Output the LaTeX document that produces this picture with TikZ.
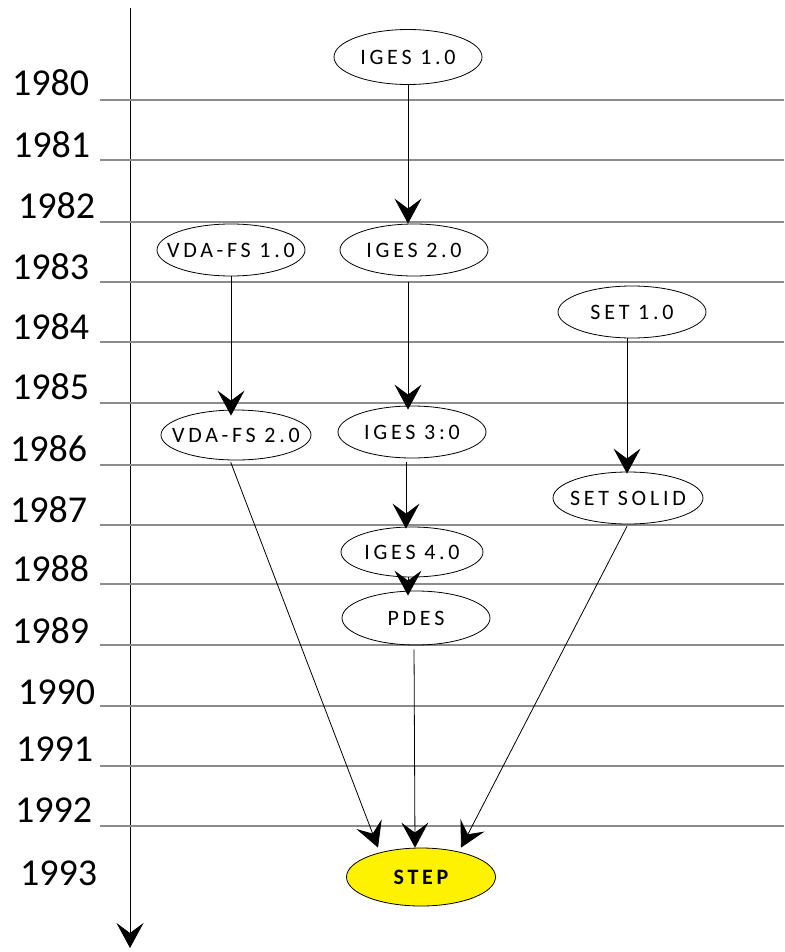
\documentclass[tikz,border=0pt]{standalone}
\usepackage{fontspec}
\setmainfont{Carlito}
\newfontfamily\boxfont[LetterSpace=17]{Carlito}
\usetikzlibrary{shapes.geometric,arrows.meta}
\newcommand{\vtext}[1]{\makebox[0pt]{#1}}

\begin{document}
\begin{tikzpicture}[x=1pt,y=-1pt,
    version/.style={ellipse, draw, line width=0.8pt, inner sep=0pt, minimum width=148pt, minimum height=52pt,
        font=\boxfont\fontsize{22}{22}\selectfont},
    yearlabel/.style={anchor=west, inner sep=0pt, font=\fontsize{38}{38}\selectfont},
    flow/.style={-{Stealth[length=25pt,width=27pt,inset=10pt]}, line width=0.8pt},
    yearline/.style={draw=black!45, line width=1.1pt}]
        \useasboundingbox (0, 0) rectangle (784, 952);

        % time axis
        \coordinate (axtop) at (130, 8);
        \coordinate (axbot) at (130, 948);
        \draw[flow] (axtop) -- (axbot);

        % year rules
        \foreach \yy in {100, 160, 222, 282, 342, 403, 465, 525, 584, 645, 706, 766, 826}
            \draw[yearline] (100, \yy) -- (784, \yy);

        % years
        \foreach \yr/\xx/\yy in {1980/12/83, 1981/13/145, 1982/18/206, 1983/12/267,
                1984/12/327, 1985/12/387, 1986/10/449, 1987/10/510, 1988/12/569,
                1989/12/631, 1990/18/692, 1991/16/749, 1992/15/810, 1993/20/873}
            \node[yearlabel] (y\yr) at (\xx, \yy) {\yr};

        \node[version, minimum height=55pt] (iges1) at (408, 57) {\vtext{IGES 1.0}};
        \node[version] (vda1) at (231, 250) {\vtext{VDA-FS 1.0}};
        \node[version] (iges2) at (414, 250) {\vtext{IGES 2.0}};
        \node[version] (set1) at (632, 312) {\vtext{SET 1.0}};
        \node[version, minimum width=150pt, minimum height=50pt] (vda2) at (236, 435) {\vtext{VDA-FS 2.0}};
        \node[version] (iges3) at (412, 432) {\vtext{IGES 3:0}};
        \node[version, minimum width=150pt] (setsolid) at (628, 498) {\vtext{SET SOLID}};
        \node[version, minimum width=142pt, minimum height=50pt] (iges4) at (412, 552) {\vtext{IGES 4.0}};
        \node[version, minimum height=54pt] (pdes) at (416, 618) {\vtext{PDES}};
        \node[version, fill=yellow, minimum width=149pt, minimum height=58pt,
            font=\boxfont\fontsize{22}{22}\selectfont\bfseries] (step) at (421, 877) {\vtext{STEP}};

        \draw[flow] (iges1.south) -- (iges1.south |- iges2.north);
        \draw[flow] (vda1.south) -- ([yshift=-6pt]vda1.south |- vda2.north);
        \draw[flow, shorten <=6pt] ([xshift=-6pt]iges2.south) -- ([xshift=-6pt,yshift=-4pt]iges2.south |- iges3.north);
        \draw[flow] ([xshift=-5pt]set1.south) -- ([xshift=-5pt,yshift=-2pt]set1.south |- setsolid.north);
        \draw[flow, shorten <=4pt] ([xshift=-6pt]iges3.south) -- ([xshift=-6pt,yshift=-2pt]iges3.south |- iges4.north);
        \draw[flow, shorten >=-5pt] ([xshift=-4pt]iges4.south) -- ([xshift=-4pt]iges4.south |- pdes.north);
        \draw[flow, shorten <=2pt] ([xshift=-6pt]vda2.south) -- ([xshift=-43pt]step.north);
        \draw[flow, shorten <=4pt] ([xshift=-2pt]pdes.south) -- ([xshift=-6pt]step.north);
        \draw[flow, shorten <=2pt] (setsolid.south) -- ([xshift=40pt]step.north);

    \end{tikzpicture}
\end{document}
